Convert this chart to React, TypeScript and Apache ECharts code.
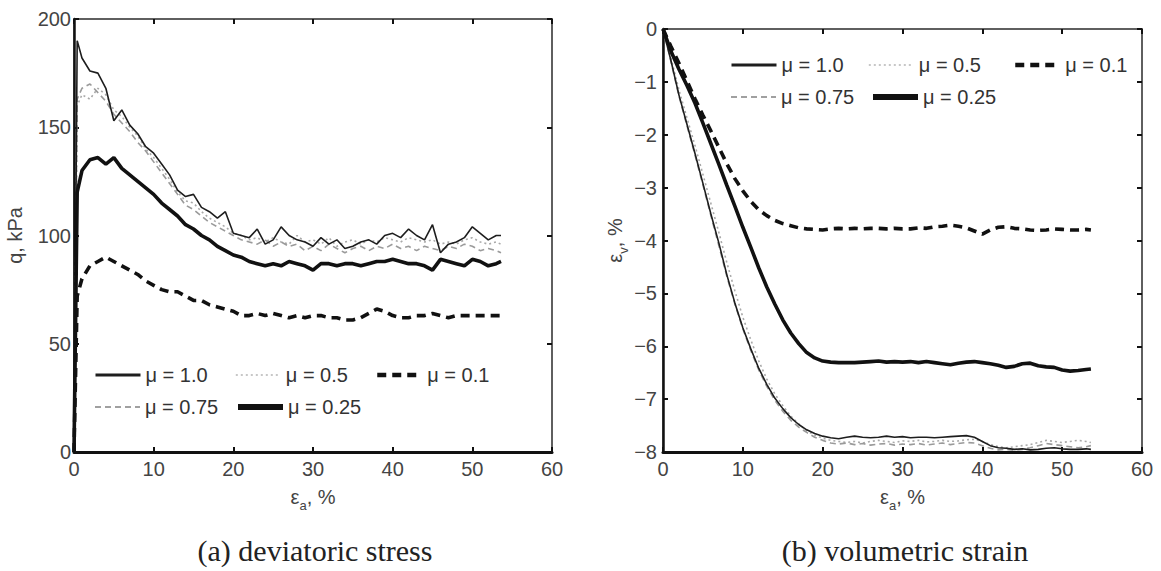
import React, { useEffect, useRef } from "react";
import * as echarts from "echarts";

// ---------- (a) deviatoric stress ----------
const EA_A = [0, 0.4,
  1, 2, 3, 4, 5, 6, 7, 8, 9, 10,
  11, 12, 13, 14, 15, 16, 17, 18, 19, 20,
  21, 22, 23, 24, 25, 26, 27, 28, 29, 30,
  31, 32, 33, 34, 35, 36, 37, 38, 39, 40,
  41, 42, 43, 44, 45, 46, 47, 48, 49, 50,
  51, 52, 53, 53.6];

const Q_MU10 = [0, 190,
  182, 176, 175, 168, 153, 158, 151, 147, 141, 138,
  133, 128, 121, 118, 119, 113, 111, 108, 111, 101,
  100, 99, 103, 96, 98, 104, 100, 98, 97, 95,
  99, 96, 98, 94, 95, 97, 98, 96, 100, 101,
  99, 103, 100, 98, 105, 92, 96, 97, 99, 104,
  101, 98, 100, 100];

const Q_MU05 = [0, 160,
  165, 163, 168, 165, 158, 155, 150, 146, 140, 136,
  131, 126, 120, 116, 115, 111, 108, 106, 104, 101,
  100, 98, 99, 97, 99, 97, 96, 100, 97, 98,
  96, 99, 95, 97, 98, 96, 98, 97, 99, 98,
  97, 99, 98, 97, 98, 96, 97, 96, 98, 99,
  97, 96, 97, 96];

const Q_MU075 = [0, 163,
  168, 170, 166, 162, 156, 152, 148, 143, 139, 134,
  129, 124, 119, 114, 112, 109, 106, 104, 102, 100,
  98, 97, 96, 98, 95, 97, 95, 96, 93, 95,
  93, 96, 94, 92, 94, 95, 93, 95, 94, 96,
  94, 95, 93, 95, 94, 93, 95, 94, 96, 95,
  93, 94, 93, 92];

const Q_MU025 = [0, 120,
  130, 135, 136, 133, 136, 131, 128, 125, 122, 119,
  115, 112, 109, 105, 103, 100, 98, 95, 93, 91,
  90, 88, 87, 86, 87, 86, 88, 87, 86, 84,
  87, 87, 86, 87, 87, 86, 87, 88, 88, 89,
  88, 87, 87, 86, 84, 89, 88, 87, 86, 89,
  88, 86, 87, 88];

const Q_MU01 = [0, 72,
  80, 86, 88, 90, 88, 86, 84, 82, 79, 77,
  75, 74, 74, 72, 70, 70, 68, 67, 66, 65,
  63, 63, 64, 63, 64, 63, 62, 63, 62, 63,
  63, 62, 62, 61, 61, 62, 64, 66, 65, 63,
  62, 62, 63, 63, 64, 63, 62, 63, 63, 63,
  63, 63, 63, 63];

// ---------- (b) volumetric strain ----------
const EA_B = [0,
  1, 2, 3, 4, 5, 6, 7, 8, 9, 10,
  11, 12, 13, 14, 15, 16, 17, 18, 19, 20,
  21, 22, 23, 24, 25, 26, 27, 28, 29, 30,
  31, 32, 33, 34, 35, 36, 37, 38, 39, 40,
  41, 42, 43, 44, 45, 46, 47, 48, 49, 50,
  51, 52, 53, 53.6];

const V_MU10 = [0,
  -0.6, -1.25, -1.8, -2.35, -2.92, -3.5, -4.05, -4.65, -5.18, -5.65,
  -6.05, -6.42, -6.72, -6.98, -7.18, -7.35, -7.48, -7.58, -7.65, -7.7,
  -7.73, -7.75, -7.72, -7.7, -7.72, -7.73, -7.72, -7.7, -7.72, -7.71,
  -7.73, -7.72, -7.72, -7.73, -7.72, -7.71, -7.7, -7.69, -7.72, -7.8,
  -7.88, -7.92, -7.93, -7.95, -7.94, -7.96, -7.95, -7.93, -7.92, -7.94,
  -7.95, -7.95, -7.94, -7.95];

const V_MU05 = [0,
  -0.55, -1.15, -1.68, -2.2, -2.75, -3.3, -3.85, -4.42, -4.95, -5.45,
  -5.88, -6.28, -6.62, -6.9, -7.12, -7.32, -7.47, -7.6, -7.68, -7.74,
  -7.78, -7.8, -7.82, -7.8, -7.83, -7.8, -7.78, -7.8, -7.82, -7.79,
  -7.8, -7.78, -7.81, -7.8, -7.78, -7.8, -7.79, -7.77, -7.76, -7.8,
  -7.86, -7.9, -7.92, -7.9, -7.88, -7.86, -7.82, -7.78, -7.8, -7.82,
  -7.8, -7.78, -7.8, -7.82];

const V_MU075 = [0,
  -0.62, -1.27, -1.83, -2.38, -2.95, -3.53, -4.1, -4.68, -5.2, -5.67,
  -6.08, -6.45, -6.76, -7.02, -7.23, -7.4, -7.53, -7.63, -7.72, -7.78,
  -7.83, -7.85, -7.83, -7.86, -7.84, -7.87, -7.85, -7.84, -7.87, -7.85,
  -7.86, -7.84, -7.87, -7.85, -7.83, -7.86, -7.84, -7.82, -7.83, -7.88,
  -7.93, -7.96, -7.95, -7.97, -7.95, -7.92, -7.88, -7.84, -7.86, -7.88,
  -7.9, -7.92, -7.9, -7.88];

const V_MU025 = [0,
  -0.42, -0.76, -1.07, -1.4, -1.78, -2.17, -2.56, -2.96, -3.35, -3.75,
  -4.13, -4.52, -4.88, -5.2, -5.5, -5.75, -5.95, -6.12, -6.22, -6.28,
  -6.3, -6.31, -6.31, -6.31, -6.3, -6.29, -6.28, -6.3, -6.29, -6.3,
  -6.29, -6.31, -6.29, -6.31, -6.33, -6.35, -6.32, -6.3, -6.29, -6.31,
  -6.33, -6.36, -6.4, -6.38, -6.33, -6.32, -6.37, -6.39, -6.4, -6.45,
  -6.47, -6.46, -6.44, -6.43];

const V_MU01 = [0,
  -0.33, -0.65, -0.98, -1.32, -1.63, -1.93, -2.24, -2.55, -2.83, -3.06,
  -3.26, -3.42, -3.53, -3.62, -3.68, -3.72, -3.76, -3.78, -3.79, -3.8,
  -3.78, -3.77, -3.78, -3.77, -3.78, -3.77, -3.77, -3.78, -3.77, -3.78,
  -3.78, -3.76, -3.77, -3.74, -3.73, -3.71, -3.73, -3.76, -3.82, -3.88,
  -3.8, -3.75, -3.74, -3.77, -3.78, -3.8, -3.81, -3.8, -3.78, -3.79,
  -3.8, -3.8, -3.79, -3.8];

const NAMES = ["μ = 1.0", "μ = 0.5", "μ = 0.1", "μ = 0.75", "μ = 0.25"];
const X_TICKS = { min: 0, max: 60, interval: 10 };
const Q_TICKS = { min: 0, max: 200, interval: 50 };
const V_TICKS = { min: -8, max: 0, interval: 1 };

const SANS = "Liberation Sans";
const SERIF = "Liberation Serif";

const STYLE: Record<string, any> = {
  "μ = 1.0": { color: "#1e1e1e", width: 1.6, type: "solid" },
  "μ = 0.5": { color: "#a9a9a9", width: 1.6, type: [2, 3] },
  "μ = 0.1": { color: "#111", width: 3.6, type: [9, 6] },
  "μ = 0.75": { color: "#9a9a9a", width: 1.6, type: [6, 4] },
  "μ = 0.25": { color: "#111", width: 3.6, type: "solid" },
};

const LEGEND_STYLE: Record<string, any> = {
  "μ = 1.0": { color: "#1e1e1e", width: 3, type: "solid" },
  "μ = 0.5": { color: "#b5b5b5", width: 1.6, type: [2, 3] },
  "μ = 0.1": { color: "#111", width: 4.5, type: [9, 6] },
  "μ = 0.75": { color: "#a0a0a0", width: 2, type: [6, 4] },
  "μ = 0.25": { color: "#111", width: 6, type: "solid" },
};

const DRAW_ORDER = ["μ = 0.5", "μ = 0.75", "μ = 1.0", "μ = 0.25", "μ = 0.1"];

const DATA_A: Record<string, number[]> = {
  "μ = 1.0": Q_MU10,
  "μ = 0.5": Q_MU05,
  "μ = 0.1": Q_MU01,
  "μ = 0.75": Q_MU075,
  "μ = 0.25": Q_MU025,
};
const DATA_B: Record<string, number[]> = {
  "μ = 1.0": V_MU10,
  "μ = 0.5": V_MU05,
  "μ = 0.1": V_MU01,
  "μ = 0.75": V_MU075,
  "μ = 0.25": V_MU025,
};

const subRich = {
  e: { fontSize: 20, fontFamily: SANS, color: "#444", lineHeight: 30, verticalAlign: "middle" },
  s: { fontSize: 13, fontFamily: SANS, color: "#444", lineHeight: 30, verticalAlign: "bottom" },
};

function xAxes(gridIndex: number) {
  return [
    {
      gridIndex,
      type: "value",
      ...X_TICKS,
      position: "bottom",
      axisLine: { show: true, onZero: false, lineStyle: { color: "#111", width: 3 } },
      axisTick: { show: true, inside: true, length: 5, lineStyle: { color: "#111", width: 2 } },
      axisLabel: { fontSize: 20, color: "#444", fontFamily: SANS, margin: 7 },
      splitLine: { show: false },
      name: "{e|ε}{s|a}{e|, %}",
      nameLocation: "middle",
      nameGap: 30,
      nameTextStyle: { rich: subRich },
    },
    {
      gridIndex,
      type: "value",
      ...X_TICKS,
      position: "top",
      axisLine: { show: true, onZero: false, lineStyle: { color: "#555", width: 1.5 } },
      axisTick: { show: true, inside: true, length: 5, lineStyle: { color: "#111", width: 2 } },
      axisLabel: { show: false },
      splitLine: { show: false },
    },
  ];
}

function yAxes(gridIndex: number, ticks: any, name: string, nameGap: number, margin: number) {
  return [
    {
      gridIndex,
      type: "value",
      ...ticks,
      position: "left",
      axisLine: { show: true, onZero: false, lineStyle: { color: "#111", width: 2.5 } },
      axisTick: { show: true, inside: true, length: 5, lineStyle: { color: "#111", width: 2 } },
      axisLabel: {
        fontSize: 20,
        color: "#444",
        fontFamily: SANS,
        margin,
        formatter: (v: number) => String(v).replace("-", "−"),
      },
      splitLine: { show: false },
      name,
      nameLocation: "middle",
      nameRotate: 90,
      nameGap,
      nameTextStyle: { rich: subRich },
    },
    {
      gridIndex,
      type: "value",
      ...ticks,
      position: "right",
      axisLine: { show: true, onZero: false, lineStyle: { color: "#555", width: 1.5 } },
      axisTick: { show: true, inside: true, length: 5, lineStyle: { color: "#111", width: 2 } },
      axisLabel: { show: false },
      splitLine: { show: false },
    },
  ];
}

function makeSeries(xs: number[], data: Record<string, number[]>, axisIndex: number) {
  return DRAW_ORDER.map((name) => ({
    type: "line",
    name,
    xAxisIndex: axisIndex,
    yAxisIndex: axisIndex,
    data: xs.map((x, i) => [x, data[name][i]]),
    symbol: "none",
    showSymbol: false,
    smooth: false,
    lineStyle: { ...STYLE[name] },
    itemStyle: { color: STYLE[name].color },
    emphasis: { disabled: true },
  }));
}

function legendItem(name: string, left: number, top: number) {
  return {
    data: [name],
    left,
    top,
    padding: 0,
    itemWidth: 45,
    itemHeight: 14,
    itemGap: 0,
    selectedMode: false,
    itemStyle: { color: "rgba(0,0,0,0)", borderWidth: 0, opacity: 0 },
    lineStyle: { ...LEGEND_STYLE[name] },
    textStyle: { fontSize: 20, color: "#333", fontFamily: SANS },
  };
}

const option: any = {
  animation: false,
  backgroundColor: "#fff",
  grid: [
    { left: 74, top: 19, width: 478, height: 433, show: true, borderColor: "#555", borderWidth: 1.5, backgroundColor: "transparent" },
    { left: 663, top: 29, width: 479, height: 423, show: true, borderColor: "#555", borderWidth: 1.5, backgroundColor: "transparent" },
  ],
  xAxis: [...xAxes(0), ...xAxes(1)],
  yAxis: [
    ...yAxes(0, Q_TICKS, "{e|q, kPa}", 44, 3),
    ...yAxes(1, V_TICKS, "{e|ε}{s|v}{e|, %}", 33, 6),
  ],
  legend: [
    legendItem(NAMES[0], 94, 365),
    legendItem(NAMES[1], 235, 365),
    legendItem(NAMES[2], 375, 365),
    legendItem(NAMES[3], 94, 397),
    legendItem(NAMES[4], 235, 397),
    legendItem(NAMES[0], 730, 55),
    legendItem(NAMES[1], 868, 55),
    legendItem(NAMES[2], 1013, 55),
    legendItem(NAMES[3], 730, 87),
    legendItem(NAMES[4], 870, 87),
  ],
  graphic: [
    {
      type: "text",
      x: 315,
      y: 550,
      style: { text: "(a) deviatoric stress", font: `30px "${SERIF}"`, fill: "#222", align: "center", verticalAlign: "middle" },
    },
    {
      type: "text",
      x: 905,
      y: 550,
      style: { text: "(b) volumetric strain", font: `30px "${SERIF}"`, fill: "#222", align: "center", verticalAlign: "middle" },
    },
  ],
  series: [...makeSeries(EA_A, DATA_A, 0), ...makeSeries(EA_B, DATA_B, 2)],
};

export default function App() {
  const ref = useRef<HTMLDivElement>(null);
  useEffect(() => {
    if (!ref.current) return;
    const chart = echarts.init(ref.current, null, { renderer: "svg" });
    chart.setOption(option);
    return () => chart.dispose();
  }, []);
  return (
    <div
      ref={ref}
      style={{ position: "fixed", left: 0, top: 0, width: 1161, height: 571, background: "#fff" }}
    />
  );
}
